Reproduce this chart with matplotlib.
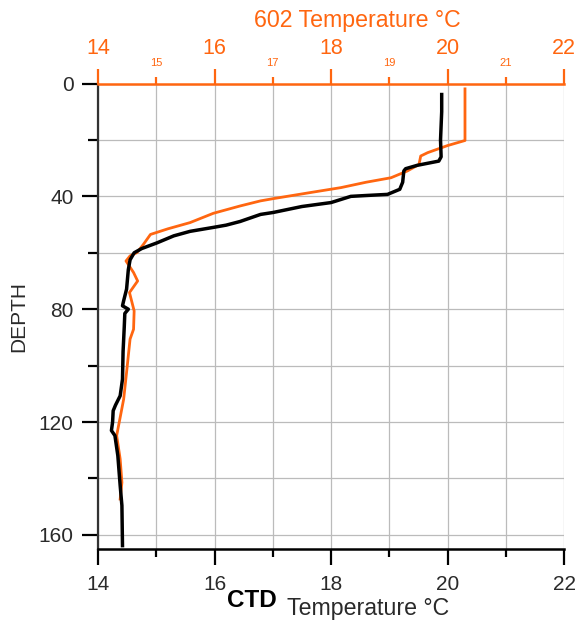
import numpy as np
import matplotlib
matplotlib.use('Agg')
import matplotlib.pyplot as plt
from matplotlib.ticker import MultipleLocator, FormatStrFormatter

plt.rcParams['font.family'] = ['Liberation Sans', 'DejaVu Sans']

# perfil CTD (preto)
ctd_temp = [19.90, 19.90, 19.88, 19.89, 19.85, 19.48, 19.28, 19.25, 19.23, 19.18,
            18.97, 18.60, 18.34, 18.00, 17.50, 17.01, 16.79, 16.44, 16.20, 15.98,
            15.58, 15.30, 15.01, 14.75, 14.62, 14.55, 14.52, 14.49, 14.44, 14.42,
            14.52, 14.46, 14.45, 14.43, 14.42, 14.38, 14.30, 14.26, 14.25, 14.23,
            14.29, 14.34, 14.38, 14.41, 14.42]
ctd_depth = [3.9, 10, 20, 26, 27.5, 29, 30.2, 31, 35, 37.5,
             39.3, 39.7, 40, 42.2, 43.6, 45.7, 46.4, 48.9, 50.2, 51,
             52.4, 54, 56.5, 58.5, 60, 62.5, 66, 72.9, 77, 78.8,
             80, 81.5, 86.4, 95, 104.8, 110.7, 114, 116, 120, 123,
             124.8, 131.9, 142.5, 149.6, 163.8]

# perfil 602 (laranja)
s602_temp = [20.30, 20.30, 20.30, 20.00, 19.66, 19.54, 19.51, 19.31, 19.03, 18.60,
             18.17, 17.60, 17.01, 16.79, 16.44, 15.98, 15.58, 15.20, 14.90, 14.78,
             14.67, 14.55, 14.48, 14.61, 14.68, 14.54, 14.62, 14.61, 14.55, 14.49,
             14.44, 14.32, 14.38, 14.41, 14.38]
s602_depth = [1.9, 10, 20.2, 22, 24.5, 25.7, 28.7, 31, 33.4, 35,
              36.9, 38.8, 40.8, 41.6, 43.4, 46, 49.3, 51.5, 53.5, 57,
              59.9, 61.1, 62.9, 67, 70, 74.1, 80.6, 87.1, 90.6, 102.4,
              111.9, 124.8, 133.1, 141.4, 147.3]

laranja = '#FF6610'
cinza = '#2a2a2a'

fig = plt.figure(figsize=(5.78, 6.2), dpi=100)
ax = fig.add_axes([0.1696, 0.1145, 0.8062, 0.7508])

ax.plot(s602_temp, s602_depth, color=laranja, linewidth=2.0, zorder=3)
ax.plot(ctd_temp, ctd_depth, color='black', linewidth=2.5, zorder=4)

ax.set_xlim(14, 22)
ax.set_ylim(165, 0)

ax.xaxis.set_major_locator(MultipleLocator(2))
ax.xaxis.set_minor_locator(MultipleLocator(1))
ax.yaxis.set_major_locator(MultipleLocator(40))
ax.yaxis.set_minor_locator(MultipleLocator(20))

ax.grid(True, which='both', color='#bbbbbb', linewidth=0.9)
ax.set_axisbelow(True)

for s in ['right', 'top']:
    ax.spines[s].set_visible(False)
ax.spines['left'].set_linewidth(1.6)
ax.spines['left'].set_color('#333333')
ax.spines['bottom'].set_linewidth(1.8)

ax.tick_params(axis='x', which='major', length=11.5, width=1.6, pad=7, labelsize=15,
               colors='black', labelcolor=cinza)
ax.tick_params(axis='x', which='minor', length=5.8, width=1.6)
ax.tick_params(axis='y', which='major', length=11.5, width=1.6, pad=6, labelsize=15,
               colors='black', labelcolor=cinza)
ax.tick_params(axis='y', which='minor', length=7, width=1.6)

# eixo de cima (602)
ax2 = ax.twiny()
ax2.set_xlim(14, 22)
ax2.xaxis.set_major_locator(MultipleLocator(2))
ax2.xaxis.set_minor_locator(MultipleLocator(1))
ax2.xaxis.set_minor_formatter(FormatStrFormatter('%d'))
for s in ['right', 'bottom', 'left']:
    ax2.spines[s].set_visible(False)
ax2.spines['top'].set_color(laranja)
ax2.spines['top'].set_linewidth(1.8)
ax2.tick_params(axis='x', which='major', length=10.8, width=1.6, pad=7, labelsize=15.5,
                colors=laranja)
ax2.tick_params(axis='x', which='minor', length=5, width=1.6, pad=6, labelsize=8,
                colors=laranja)

fig.text(357 / 578, 1 - 27 / 620, '602 Temperature \u00b0C', color=laranja,
         fontsize=16.7, ha='center', va='baseline')
fig.text(277 / 578, 1 - 607 / 620, 'CTD', fontsize=17.5, fontweight='bold',
         ha='right', va='baseline')
fig.text(287 / 578, 1 - 615 / 620, 'Temperature \u00b0C', fontsize=16.7,
         ha='left', va='baseline', color=cinza)
fig.text(19 / 578, 1 - 316 / 620, 'DEPTH', fontsize=15, rotation=90,
         ha='center', va='center', color=cinza)

plt.savefig('out.png', dpi=100)
